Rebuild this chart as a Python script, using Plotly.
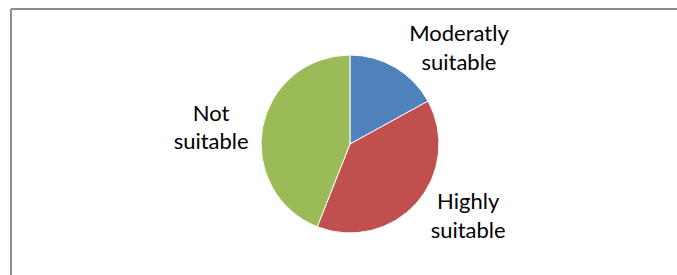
import plotly.graph_objects as go

categories = ["Moderatly<br>suitable", "Highly<br>suitable", "Not<br>suitable"]
values = [17, 39, 44]
colors = ["#4F81BD", "#C0504D", "#9BBB59"]

W, H = 677, 275
fig = go.Figure(go.Pie(
    labels=categories,
    values=values,
    sort=False,
    direction="clockwise",
    rotation=0,
    marker=dict(colors=colors, line=dict(color="white", width=1)),
    textinfo="label",
    textposition="outside",
    texttemplate="%{label}",
    outsidetextfont=dict(family="Lato, Carlito, sans-serif", size=22, color="black"),
    showlegend=False,
    hoverinfo="label+value",
    domain=dict(x=[261 / W, 439 / W], y=[42 / H, 220 / H]),
))

frame = dict(color="#8C8C8C", width=2)
fig.update_layout(
    width=W, height=H,
    margin=dict(l=0, r=0, t=0, b=0),
    paper_bgcolor="white",
    plot_bgcolor="white",
    shapes=[
        dict(type="line", xref="paper", yref="paper",
             x0=11 / W, x1=1.0, y0=1 - 9 / H, y1=1 - 9 / H, line=frame),
        dict(type="line", xref="paper", yref="paper",
             x0=11 / W, x1=11 / W, y0=0, y1=1 - 9 / H, line=frame),
    ],
)

fig.write_html(
    "out.html",
    config={"displayModeBar": False},
    post_script=(
        "document.documentElement.style.overflow='hidden';"
        "document.body.style.margin='0';document.body.style.overflow='hidden';"
    ),
)
